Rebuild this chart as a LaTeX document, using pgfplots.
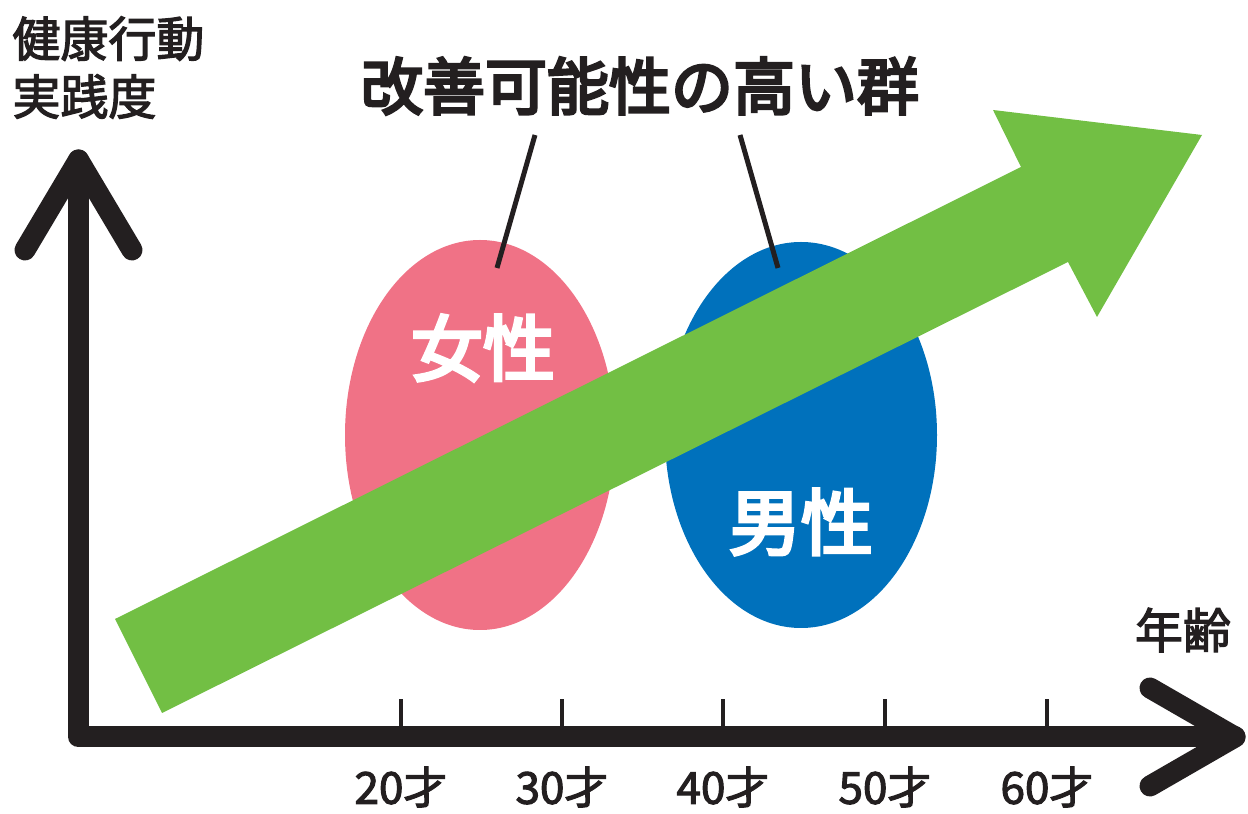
\documentclass[border=0pt]{standalone}
\usepackage{pgfplots}
\pgfplotsset{compat=1.18}
\usepackage{fontspec}
\setmainfont{Noto Sans CJK JP}
\newfontfamily\jpm[FakeBold=2.5]{Noto Sans CJK JP}
\newfontfamily\jph[FakeBold=4.5]{Noto Sans CJK JP}
\definecolor{ink}{HTML}{231F20}
\definecolor{pinkc}{HTML}{F07286}
\definecolor{bluec}{HTML}{0071BC}
\definecolor{greenc}{HTML}{72BF44}
\begin{document}
\begin{tikzpicture}
\begin{axis}[
  scale only axis, width=624pt, height=407pt,
  xmin=0, xmax=1248, ymin=0, ymax=814,
  hide axis, clip=false,
]
% ellipses (groups)
\fill[pinkc] (axis cs:480,379) ellipse [x radius=135, y radius=195];
\fill[bluec] (axis cs:801,379) ellipse [x radius=136, y radius=193];
% green trend arrow
\addplot[fill=greenc, draw=none] coordinates {
  (115,195) (1021,647) (993,704) (1202,679) (1097,497) (1068,552) (162,101)
} -- cycle;
% axes
\addplot[ink, line width=10.5pt, line cap=round, line join=round] coordinates {
  (78.5,654) (78.5,77) (1235,77)};
\addplot[ink, line width=10.5pt, line cap=round, line join=round] coordinates {
  (25,564) (78.5,654) (132,564)};
\addplot[ink, line width=10.5pt, line cap=round, line join=round] coordinates {
  (1150,126) (1235,77) (1150,28)};
% ticks
\pgfplotsinvokeforeach{401,562,723,885,1047}{
  \addplot[ink, line width=2pt] coordinates {(#1,77) (#1,115)};
}
% callout lines
\addplot[ink, line width=2.5pt] coordinates {(535,679) (497,546)};
\addplot[ink, line width=2.5pt] coordinates {(740,679) (778,546)};
% texts
\node[font=\fontsize{31pt}{33pt}\jph, text=ink] at (axis cs:640,728) {改善可能性の高い群};
\node[font=\fontsize{24pt}{29pt}\jpm, text=ink, anchor=north west, align=left, inner sep=0pt] at (axis cs:12,798) {健康行動\\実践度};
\node[font=\fontsize{24pt}{26pt}\jpm, text=ink] at (axis cs:1183,184) {年齢};
\node[font=\fontsize{36pt}{38pt}\jph, text=white] at (axis cs:483,466) {女性};
\node[font=\fontsize{36pt}{38pt}\jph, text=white] at (axis cs:801,292) {男性};
\node[font=\fontsize{22pt}{24pt}\jpm, text=ink] at (axis cs:401,27) {20才};
\node[font=\fontsize{22pt}{24pt}\jpm, text=ink] at (axis cs:562,27) {30才};
\node[font=\fontsize{22pt}{24pt}\jpm, text=ink] at (axis cs:723,27) {40才};
\node[font=\fontsize{22pt}{24pt}\jpm, text=ink] at (axis cs:885,27) {50才};
\node[font=\fontsize{22pt}{24pt}\jpm, text=ink] at (axis cs:1047,27) {60才};
\coordinate (BL) at (axis cs:0,0);
\coordinate (TR) at (axis cs:1248,814);
\end{axis}
\pgfresetboundingbox
\path (BL) rectangle (TR);
\end{tikzpicture}
\end{document}
